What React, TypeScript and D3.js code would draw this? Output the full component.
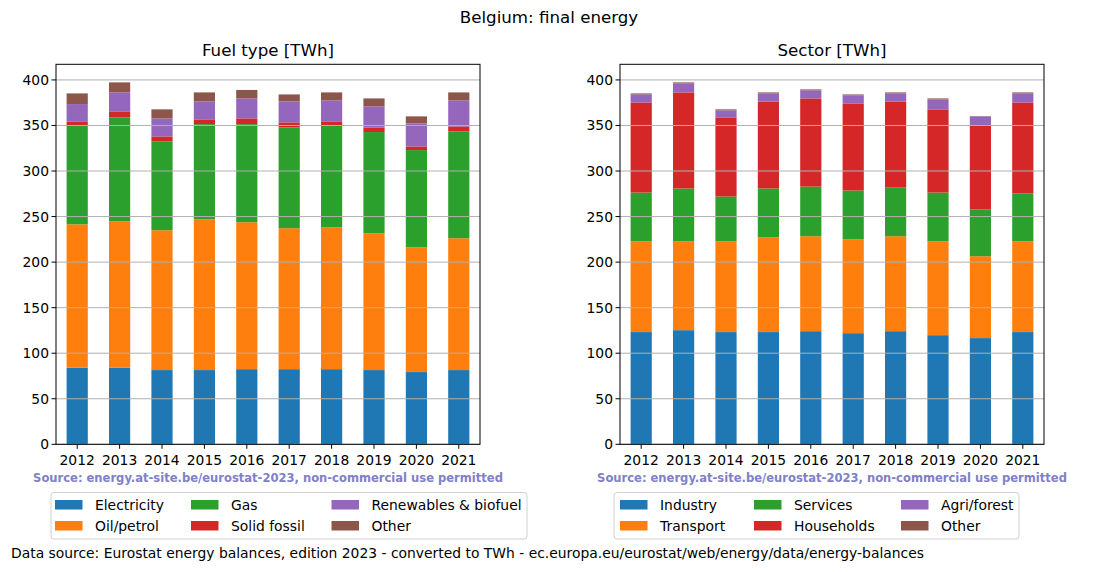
import React from "react";
import * as d3 from "d3";

const years = ["2012", "2013", "2014", "2015", "2016", "2017", "2018", "2019", "2020", "2021"];

// Fuel type [TWh]
const fuelNames = ["Electricity", "Oil/petrol", "Gas", "Solid fossil", "Renewables & biofuel", "Other"];
const electricity = [84, 84, 81.5, 81.5, 82.5, 82.5, 82.5, 81.5, 79.3, 81.5];
const oilPetrol = [157.5, 160.8, 153.5, 165.5, 161.3, 154.7, 155.8, 150.2, 137, 144.7];
const gas = [108.6, 114.1, 97.6, 104.5, 107.7, 110.7, 111.8, 111.1, 106.7, 117.3];
const solidFossil = [4.4, 6.6, 5.4, 5.2, 6.3, 5.5, 4.4, 5.1, 4, 5.5];
const renewables = [19, 20.8, 19.8, 19.7, 21.9, 23, 23, 23, 25.3, 28.5];
const fuelOther = [11.7, 11, 9.9, 9.9, 9.3, 7.7, 8.8, 8.8, 7.7, 8.8];

// Sector [TWh]
const sectorNames = ["Industry", "Transport", "Services", "Households", "Agri/forest", "Other"];
const industry = [123.2, 125.3, 123.2, 123.2, 124.2, 122, 124.2, 119.8, 116.6, 123.2];
const transport = [99.7, 97.6, 99.7, 104.1, 104.2, 103.1, 104.2, 103.1, 89.9, 99.7];
const services = [53.5, 57.9, 49.1, 53.5, 54.5, 53.5, 53.4, 53.5, 51.4, 52.4];
const households = [98.9, 105.5, 86.9, 95.6, 96.8, 95.6, 94.6, 91.3, 91.9, 100];
const agriForest = [8.8, 9.9, 7.7, 8.8, 8.8, 8.8, 8.8, 10.9, 10.2, 9.9];
const sectorOther = [1.1, 1.1, 1.1, 1.1, 1.1, 1.1, 1.1, 1.1, 0.3, 1.1];

const yTicks = [0, 50, 100, 150, 200, 250, 300, 350, 400];

const colors = ["#1f77b4", "#ff7f0e", "#2ca02c", "#d62728", "#9467bd", "#8c564b"];
const FONT = "DejaVu Sans, sans-serif";
const SOURCE = "Source: energy.at-site.be/eurostat-2023, non-commercial use permitted";
const FS = 13.89;

type PanelProps = {
  left: number;
  right: number;
  title: string;
  names: string[];
  series: number[][];
  legendBox: [number, number];
  legendCols: number[];
};

function Panel({ left, right, title, names, series, legendBox, legendCols }: PanelProps) {
  const top = 64.3;
  const bottom = 444.3;
  const rows = years.map((y, i) => {
    const r: Record<string, number | string> = { year: y };
    names.forEach((n, k) => (r[n] = series[k][i]));
    return r;
  });
  const stacked = d3.stack<any>().keys(names)(rows as any);
  const maxTotal = d3.max(stacked[stacked.length - 1], (d) => d[1]) as number;
  const y = d3.scaleLinear().domain([0, maxTotal * 1.05]).range([bottom, top]);
  const x = d3.scaleBand().domain(years).range([left, right]).paddingInner(0.5).paddingOuter(0.25);
  const cx = (yr: string) => (x(yr) as number) + x.bandwidth() / 2;
  const mid = (left + right) / 2;

  return (
    <g>
      <text x={mid} y={56} textAnchor="middle" fontSize={16.67} fontFamily={FONT}>
        {title}
      </text>
      {stacked.map((layer, k) => (
        <g key={k} fill={colors[k]}>
          {layer.map((d, i) => (
            <rect
              key={i}
              x={x(years[i])}
              width={x.bandwidth()}
              y={y(d[1])}
              height={Math.max(0, y(d[0]) - y(d[1]))}
            />
          ))}
        </g>
      ))}
      {yTicks.map((t) => (
        <g key={t}>
          <line x1={left} x2={right} y1={y(t)} y2={y(t)} stroke="#b0b0b0" strokeWidth={1} />
          <line x1={left - 4.5} x2={left} y1={y(t)} y2={y(t)} stroke="#000" strokeWidth={1} />
          <text x={left - 7} y={y(t) + 5} textAnchor="end" fontSize={FS} fontFamily={FONT}>
            {t}
          </text>
        </g>
      ))}
      {years.map((yr) => (
        <g key={yr}>
          <line x1={cx(yr)} x2={cx(yr)} y1={bottom} y2={bottom + 4.5} stroke="#000" strokeWidth={1} />
          <text x={cx(yr)} y={bottom + 21} textAnchor="middle" fontSize={FS} fontFamily={FONT}>
            {yr}
          </text>
        </g>
      ))}
      <rect x={left} y={top} width={right - left} height={bottom - top} fill="none" stroke="#000" strokeWidth={1} />
      <text x={mid} y={482} textAnchor="middle" fontSize={11.55} fontWeight="bold" fill="#8080c8" fontFamily={FONT}>
        {SOURCE}
      </text>
      <rect
        x={legendBox[0]}
        y={492.5}
        width={legendBox[1] - legendBox[0]}
        height={46.5}
        rx={3}
        fill="#fff"
        stroke="#d0d0d0"
        strokeWidth={1}
      />
      {names.map((n, k) => {
        const col = Math.floor(k / 2);
        const row = k % 2;
        const px = legendCols[col];
        const cy = 504.5 + row * 21;
        return (
          <g key={n}>
            <rect x={px} y={cy - 4.5} width={27.5} height={9.5} fill={colors[k]} />
            <text x={px + 40} y={cy + 5} fontSize={FS} fontFamily={FONT}>
              {n}
            </text>
          </g>
        );
      })}
    </g>
  );
}

export default function App() {
  return (
    <svg
      width={1100}
      height={572}
      style={{ position: "fixed", left: 0, top: 0, background: "#fff" }}
      fontFamily={FONT}
    >
      <rect x={0} y={0} width={1100} height={572} fill="#fff" />
      <text x={549} y={23} textAnchor="middle" fontSize={16.67} fontFamily={FONT}>
        Belgium: final energy
      </text>
      <Panel
        left={56}
        right={480}
        title="Fuel type [TWh]"
        names={fuelNames}
        series={[electricity, oilPetrol, gas, solidFossil, renewables, fuelOther]}
        legendBox={[51, 527]}
        legendCols={[55, 191, 331.5]}
      />
      <Panel
        left={620}
        right={1044}
        title="Sector [TWh]"
        names={sectorNames}
        series={[industry, transport, services, households, agriForest, sectorOther]}
        legendBox={[614, 1019]}
        legendCols={[620, 754, 901]}
      />
      <text x={11} y={558} fontSize={FS} fontFamily={FONT}>
        Data source: Eurostat energy balances, edition 2023 - converted to TWh - ec.europa.eu/eurostat/web/energy/data/energy-balances
      </text>
    </svg>
  );
}
